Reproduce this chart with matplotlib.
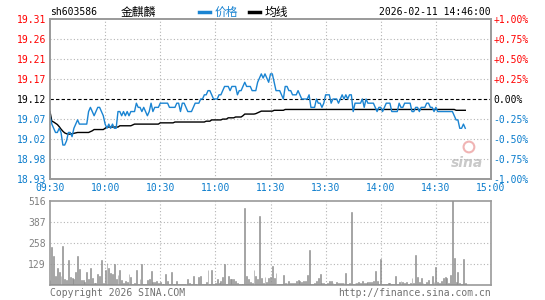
import matplotlib.pyplot as plt
from matplotlib.lines import Line2D

# 分时数据：每分钟一个点，从 09:30 开始（上午 0-120，下午 121 起）
price = [
    19.08, 19.06, 19.05, 19.04, 19.04, 19.05, 19.04, 19.01, 19.01, 19.02,
    19.04, 19.04, 19.03, 19.05, 19.06, 19.07, 19.06, 19.06, 19.06, 19.06,
    19.06, 19.09, 19.10, 19.09, 19.08, 19.09, 19.10, 19.10, 19.09, 19.08,
    19.06, 19.05, 19.06, 19.05, 19.06, 19.05, 19.05, 19.09, 19.09, 19.08,
    19.09, 19.08, 19.09, 19.08, 19.09, 19.09, 19.09, 19.11, 19.10, 19.10,
    19.09, 19.10, 19.09, 19.08, 19.09, 19.11, 19.09, 19.10, 19.10, 19.10,
    19.11, 19.11, 19.11, 19.11, 19.11, 19.10, 19.10, 19.10, 19.10, 19.11,
    19.11, 19.09, 19.11, 19.11, 19.10, 19.09, 19.09, 19.09, 19.10, 19.11,
    19.11, 19.11, 19.12, 19.12, 19.13, 19.13, 19.14, 19.14, 19.13, 19.12,
    19.12, 19.12, 19.13, 19.13, 19.14, 19.15, 19.15, 19.15, 19.14, 19.15,
    19.15, 19.15, 19.13, 19.14, 19.14, 19.15, 19.16, 19.15, 19.15, 19.15,
    19.14, 19.14, 19.14, 19.16, 19.17, 19.18, 19.17, 19.18, 19.17, 19.16,
    19.18, 19.18, 19.16, 19.14, 19.14, 19.14, 19.13, 19.12, 19.15, 19.15,
    19.14, 19.14, 19.13, 19.13, 19.13, 19.14, 19.13, 19.12, 19.12, 19.12,
    19.12, 19.13, 19.10, 19.10, 19.10, 19.12, 19.11, 19.11, 19.10, 19.11,
    19.13, 19.13, 19.13, 19.11, 19.12, 19.12, 19.12, 19.11, 19.12, 19.13,
    19.12, 19.13, 19.12, 19.13, 19.13, 19.09, 19.11, 19.11, 19.11, 19.11,
    19.12, 19.10, 19.12, 19.11, 19.11, 19.11, 19.11, 19.10, 19.09, 19.10,
    19.10, 19.09, 19.10, 19.11, 19.11, 19.11, 19.09, 19.09, 19.09, 19.09,
    19.11, 19.10, 19.10, 19.11, 19.11, 19.11, 19.11, 19.09, 19.09, 19.10,
    19.10, 19.09, 19.10, 19.10, 19.10, 19.11, 19.11, 19.10, 19.10, 19.09,
    19.10, 19.09, 19.09, 19.09, 19.09, 19.09, 19.09, 19.09, 19.09, 19.09,
    19.08, 19.07, 19.07, 19.05, 19.05, 19.06, 19.05,
]

avg_price = [
    19.090, 19.067, 19.065, 19.062, 19.059, 19.054, 19.048, 19.043, 19.039, 19.037,
    19.036, 19.036, 19.037, 19.038, 19.039, 19.040, 19.040, 19.040, 19.040, 19.040,
    19.040, 19.040, 19.042, 19.044, 19.047, 19.047, 19.047, 19.047, 19.047, 19.047,
    19.050, 19.053, 19.053, 19.053, 19.053, 19.053, 19.053, 19.053, 19.056, 19.056,
    19.056, 19.056, 19.056, 19.056, 19.056, 19.058, 19.060, 19.060, 19.060, 19.060,
    19.060, 19.060, 19.060, 19.060, 19.060, 19.060, 19.060, 19.060, 19.060, 19.060,
    19.063, 19.063, 19.063, 19.063, 19.063, 19.063, 19.063, 19.063, 19.065, 19.065,
    19.065, 19.065, 19.065, 19.065, 19.065, 19.065, 19.065, 19.065, 19.065, 19.065,
    19.065, 19.065, 19.065, 19.065, 19.065, 19.067, 19.067, 19.067, 19.070, 19.070,
    19.070, 19.070, 19.070, 19.070, 19.072, 19.072, 19.072, 19.075, 19.075, 19.075,
    19.075, 19.077, 19.077, 19.077, 19.077, 19.080, 19.084, 19.084, 19.084, 19.084,
    19.084, 19.084, 19.085, 19.087, 19.089, 19.091, 19.091, 19.091, 19.091, 19.091,
    19.091, 19.091, 19.093, 19.093, 19.093, 19.093, 19.093, 19.093, 19.095, 19.095,
    19.095, 19.095, 19.095, 19.095, 19.095, 19.095, 19.095, 19.095, 19.095, 19.095,
    19.095, 19.095, 19.095, 19.095, 19.095, 19.095, 19.095, 19.095, 19.095, 19.095,
    19.095, 19.095, 19.095, 19.095, 19.095, 19.095, 19.095, 19.095, 19.095, 19.095,
    19.095, 19.095, 19.095, 19.095, 19.095, 19.095, 19.095, 19.095, 19.095, 19.095,
    19.095, 19.095, 19.095, 19.095, 19.095, 19.095, 19.095, 19.095, 19.095, 19.095,
    19.095, 19.095, 19.095, 19.095, 19.095, 19.095, 19.095, 19.095, 19.095, 19.095,
    19.095, 19.095, 19.095, 19.095, 19.095, 19.095, 19.095, 19.095, 19.095, 19.095,
    19.095, 19.095, 19.095, 19.095, 19.095, 19.095, 19.095, 19.095, 19.095, 19.095,
    19.095, 19.095, 19.095, 19.095, 19.095, 19.095, 19.095, 19.095, 19.095, 19.095,
    19.095, 19.093, 19.093, 19.093, 19.093, 19.093, 19.093,
]

volume = [
    29, 233, 178, 55, 106, 82, 53, 240, 35, 29,
    152, 49, 41, 39, 82, 178, 100, 29, 33, 20,
    82, 39, 106, 45, 14, 14, 70, 55, 156, 14,
    90, 135, 106, 76, 70, 127, 39, 61, 94, 29,
    14, 25, 18, 66, 51, 8, 14, 90, 8, 39,
    127, 8, 8, 29, 35, 86, 20, 20, 25, 14,
    20, 4, 4, 70, 25, 8, 82, 4, 8, 25,
    4, 8, 8, 4, 8, 39, 14, 8, 55, 8,
    8, 51, 55, 8, 4, 20, 94, 8, 94, 8,
    14, 35, 14, 25, 51, 127, 8, 55, 37, 37,
    39, 25, 14, 4, 8, 8, 475, 55, 35, 18,
    14, 92, 55, 35, 424, 41, 12, 51, 20, 45,
    51, 119, 41, 74, 4, 4, 4, 61, 10, 10,
    25, 10, 12, 12, 25, 31, 25, 20, 25, 25,
    61, 215, 4, 4, 10, 25, 41, 68, 10, 10,
    4, 10, 25, 25, 10, 4, 16, 10, 10, 10,
    10, 72, 4, 10, 451, 4, 10, 10, 20, 10,
    25, 10, 14, 16, 16, 16, 25, 86, 25, 4,
    160, 4, 4, 8, 10, 10, 4, 4, 55, 4,
    16, 25, 16, 10, 16, 4, 10, 45, 10, 184,
    51, 16, 45, 10, 4, 16, 31, 4, 55, 16,
    113, 16, 12, 25, 41, 51, 45, 10, 61, 516,
    168, 16, 82, 10, 4, 160, 10,
]

prev_close = 19.12
price_labels = ['18.93', '18.98', '19.02', '19.07', '19.12', '19.17', '19.21', '19.26', '19.31']
pct_labels = ['-1.00%', '-0.75%', '-0.50%', '-0.25%', '0.00%', '+0.25%', '+0.50%', '+0.75%', '+1.00%']
time_labels = ['09:30', '10:00', '10:30', '11:00', '11:30', '13:30', '14:00', '14:30', '15:00']
time_ticks = [0, 30, 60, 90, 120, 150, 180, 210, 240]
vol_ticks = [129, 258, 387, 516]

RED = '#ff0000'
BLUE = '#0a7ccc'
LINE_BLUE = '#1a84d2'
BORDER = '#9a9a9a'
GRID = '#b4b4b4'
BAR = '#8e8e8e'
MONO = 'DejaVu Sans Mono'
CJK = ['Noto Sans CJK SC', 'DejaVu Sans']

W, H = 545, 300


def rect(l, t, r, b):
    return [l / W, 1 - b / H, (r - l) / W, (b - t) / H]


fig = plt.figure(figsize=(W / 100, H / 100), dpi=100)
fig.patch.set_facecolor('white')

# 价格图
ax = fig.add_axes(rect(50, 19, 491, 179))
lo, hi = prev_close * 0.99, prev_close * 1.01
step = (hi - lo) / 8
yt = [lo + k * step for k in range(9)]
ax.set_xlim(0, 240)
ax.set_ylim(lo, hi)
for y in yt[1:-1]:
    if abs(y - prev_close) > 1e-6:
        ax.axhline(y, color=GRID, lw=0.8, ls=(0, (1, 2)), zorder=1)
for t in time_ticks[1:-1]:
    ax.axvline(t, color=GRID, lw=0.8, ls=(0, (1, 2)), zorder=1)
ax.axhline(prev_close, color='black', lw=0.8, ls=(0, (3, 2)), zorder=2)

ax.plot(range(len(avg_price)), avg_price, color='black', lw=1.0, zorder=3)
ax.plot(range(len(price)), price, color=LINE_BLUE, lw=1.0, zorder=4)

ax.set_yticks(yt)
ax.set_yticklabels(price_labels, family=MONO, fontsize=7)
ax.set_xticks(time_ticks)
ax.set_xticklabels(time_labels, family=MONO, fontsize=7, color=BLUE)
ax.tick_params(length=0, pad=3)
for i, lab in enumerate(ax.get_yticklabels()):
    lab.set_color(RED if i > 4 else ('black' if i == 4 else BLUE))

rax = ax.twinx()
rax.set_ylim(lo, hi)
rax.set_yticks(yt)
rax.set_yticklabels(pct_labels, family=MONO, fontsize=7)
rax.tick_params(length=0, pad=2)
for i, lab in enumerate(rax.get_yticklabels()):
    lab.set_color(RED if i > 4 else ('black' if i == 4 else BLUE))

for a in (ax, rax):
    for s in a.spines.values():
        s.set_color(BORDER)
        s.set_linewidth(1.2)

# 新浪水印
ax.text(0.945, 0.1, 'sina', transform=ax.transAxes, ha='center', va='center',
        fontsize=10, fontstyle='italic', fontweight='bold', color='#c9c9c9', zorder=0)
ax.scatter([0.95], [0.2], transform=ax.transAxes, s=60, facecolors='none',
           edgecolors='#f0b4b4', linewidths=1.5, zorder=0)

# 成交量图
vax = fig.add_axes(rect(50, 201, 491, 285))
vax.bar(range(len(volume)), volume, width=0.5, color=BAR, edgecolor=BAR,
        linewidth=0.4, zorder=3)
vax.set_xlim(0, 240)
vax.set_ylim(0, 516)
for v in vol_ticks[:-1]:
    vax.axhline(v, color=GRID, lw=0.8, ls=(0, (1, 2)), zorder=1)
for t in time_ticks[1:-1]:
    vax.axvline(t, color=GRID, lw=0.8, ls=(0, (1, 2)), zorder=1)
vax.set_xticks([])
vax.set_yticks(vol_ticks)
vax.set_yticklabels([str(v) for v in vol_ticks], family=MONO, fontsize=7, color='#808080')
vax.tick_params(length=0, pad=3)
for s in vax.spines.values():
    s.set_color(BORDER)
    s.set_linewidth(1.2)

# 顶部标题
ty = 1 - 12 / H
fig.text(50 / W, ty, 'sh603586', family=MONO, fontsize=7, va='center')
fig.text(121 / W, ty, '金麒麟', family=CJK, fontsize=8.5, va='center')
fig.add_artist(Line2D([199 / W, 210 / W], [ty, ty], color=LINE_BLUE, lw=2.5, transform=fig.transFigure))
fig.text(215 / W, ty, '价格', family=CJK, fontsize=8.5, va='center', color=LINE_BLUE)
fig.add_artist(Line2D([249 / W, 260 / W], [ty, ty], color='black', lw=2.5, transform=fig.transFigure))
fig.text(265 / W, ty, '均线', family=CJK, fontsize=8.5, va='center')
fig.text(491 / W, ty, '2026-02-11 14:46:00', family=MONO, fontsize=7, va='center', ha='right')

# 底部版权
by = 1 - 293 / H
fig.text(50 / W, by, 'Copyright 2026 SINA.COM', family=MONO, fontsize=7, va='center', color='#707070')
fig.text(491 / W, by, 'http://finance.sina.com.cn', family=MONO, fontsize=7, va='center', ha='right', color='#707070')

fig.savefig('out.png', dpi=100)
plt.close('all')
